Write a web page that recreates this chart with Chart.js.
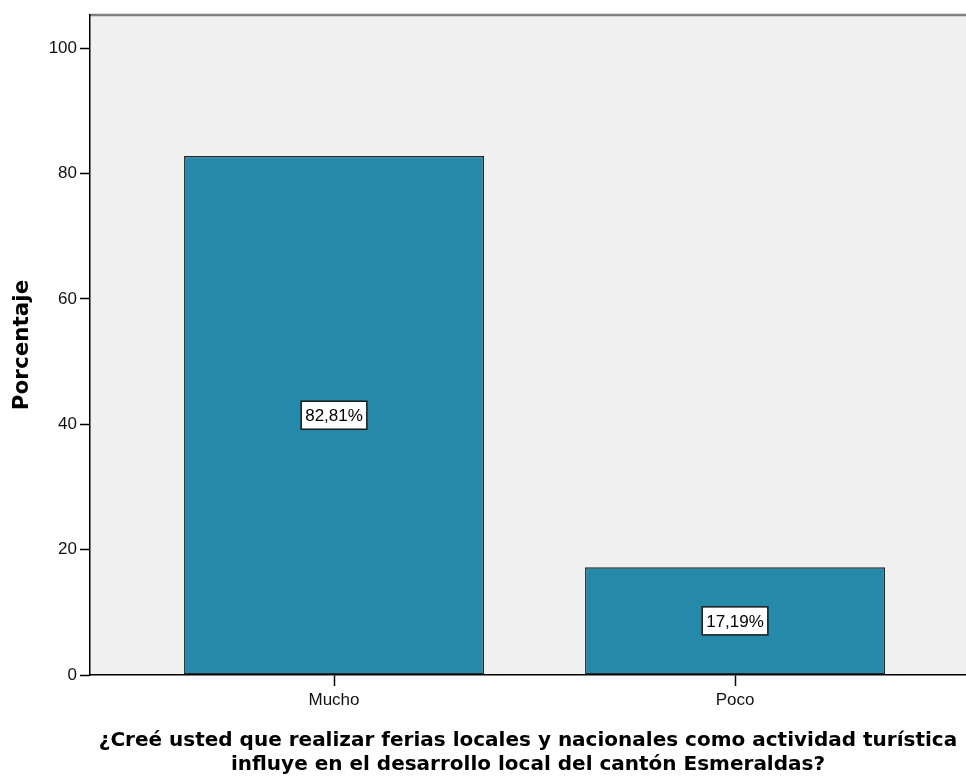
<!DOCTYPE html>
<html>
<head>
<meta charset="utf-8">
<script src="https://cdn.jsdelivr.net/npm/chart.js@4.4.1/dist/chart.umd.min.js"></script>
<style>
  html, body { margin: 0; padding: 0; background: #ffffff; }
  #wrap { width: 966px; height: 780px; }
</style>
</head>
<body>
<div id="wrap"><canvas id="barChart" width="966" height="780"></canvas></div>
<script>
const categories = ["Mucho", "Poco"];
const percentages = [82.81, 17.19];
const yTicks = [0, 20, 40, 60, 80, 100];
const yTitle = "Porcentaje";
const xTitle = ["¿Creé usted que realizar ferias locales y nacionales como actividad turística",
                "influye en el desarrollo local del cantón Esmeraldas?"];

const BAR_COLOR = "#2589aa";
const PLOT_BG = "#f0f0f0";

// SPSS uses a narrow sans for ticks; use Liberation Sans Narrow if it is there
function hasFont(name) {
    const c = document.createElement("canvas").getContext("2d");
    const sample = "MuchoPoco 0123456789%";
    c.font = "40px monospace";
    const base = c.measureText(sample).width;
    c.font = "40px '" + name + "', monospace";
    return c.measureText(sample).width !== base;
}
const narrow = hasFont("Liberation Sans Narrow");
const smallFont = narrow
    ? { family: "'Liberation Sans Narrow', sans-serif", size: 21 }
    : { family: "'Liberation Sans', Arial, sans-serif", size: 17 };

// plot background and grey top edge
const plotFrame = {
    id: "plotFrame",
    beforeDraw(chart) {
        const { ctx, chartArea: a } = chart;
        ctx.save();
        ctx.fillStyle = PLOT_BG;
        ctx.fillRect(a.left, a.top, a.right - a.left, a.bottom - a.top);
        ctx.strokeStyle = "#7f7f7f";
        ctx.lineWidth = 2.5;
        ctx.beginPath();
        ctx.moveTo(a.left, a.top);
        ctx.lineTo(a.right, a.top);
        ctx.stroke();
        ctx.restore();
    }
};

// boxed percentage label in the middle of each bar
const boxLabels = {
    id: "boxLabels",
    afterDatasetsDraw(chart) {
        const { ctx } = chart;
        const meta = chart.getDatasetMeta(0);
        ctx.save();
        ctx.font = smallFont.size + "px " + smallFont.family;
        ctx.textAlign = "center";
        ctx.textBaseline = "middle";
        meta.data.forEach((bar, i) => {
            const txt = percentages[i].toFixed(2).replace(".", ",") + "%";
            const cy = (bar.y + bar.base) / 2;
            const w = ctx.measureText(txt).width + 8;
            const h = 28;
            ctx.fillStyle = "#ffffff";
            ctx.fillRect(bar.x - w / 2, cy - h / 2, w, h);
            ctx.strokeStyle = "#1a1a1a";
            ctx.lineWidth = 1.5;
            ctx.strokeRect(bar.x - w / 2, cy - h / 2, w, h);
            ctx.fillStyle = "#000000";
            ctx.fillText(txt, bar.x, cy + 1);
        });
        ctx.restore();
    }
};

const barConfig = {
    type: "bar",
    data: {
        datasets: [{
            data: percentages.map((v, i) => ({ x: i, y: v })),
            backgroundColor: BAR_COLOR,
            borderColor: "#1f2a2e",
            borderWidth: 1.5,
            borderSkipped: false,
            barPercentage: 0.748,
            categoryPercentage: 1
        }]
    },
    options: {
        responsive: false,
        animation: false,
        layout: { padding: { top: 15, right: 0, left: 0, bottom: 0 } },
        plugins: {
            legend: { display: false },
            tooltip: { enabled: false }
        },
        scales: {
            x: {
                type: "linear",
                min: -0.6085,
                max: 1.576,
                offset: false,
                afterBuildTicks(scale) {
                    scale.ticks = categories.map((c, i) => ({ value: i }));
                },
                afterFit(scale) { scale.height = 105; },
                grid: {
                    offset: false,
                    drawOnChartArea: false,
                    tickLength: 11,
                    tickColor: "#000000",
                    tickWidth: 1.5
                },
                border: { color: "#000000", width: 1.5 },
                ticks: {
                    padding: 4,
                    color: "#111111",
                    font: smallFont,
                    callback: (v) => categories[v]
                },
                title: {
                    display: true,
                    text: xTitle,
                    color: "#000000",
                    padding: { top: 0, bottom: 3 },
                    font: { family: "'DejaVu Sans', sans-serif", size: 20, weight: "bold", lineHeight: 1.2 }
                }
            },
            y: {
                min: 0,
                max: 105.3,
                afterBuildTicks(scale) {
                    scale.ticks = yTicks.map(v => ({ value: v }));
                },
                afterFit(scale) { scale.width = 90; },
                grid: {
                    drawOnChartArea: false,
                    tickLength: 10,
                    tickColor: "#000000",
                    tickWidth: 1.5
                },
                border: { color: "#000000", width: 1.5 },
                ticks: {
                    padding: 3,
                    color: "#111111",
                    font: smallFont
                },
                title: {
                    display: true,
                    text: yTitle,
                    color: "#000000",
                    padding: { top: 10, bottom: 0 },
                    font: { family: "'DejaVu Sans', sans-serif", size: 21.5, weight: "bold" }
                }
            }
        }
    },
    plugins: [plotFrame, boxLabels]
};

new Chart(document.getElementById("barChart"), barConfig);
</script>
</body>
</html>
